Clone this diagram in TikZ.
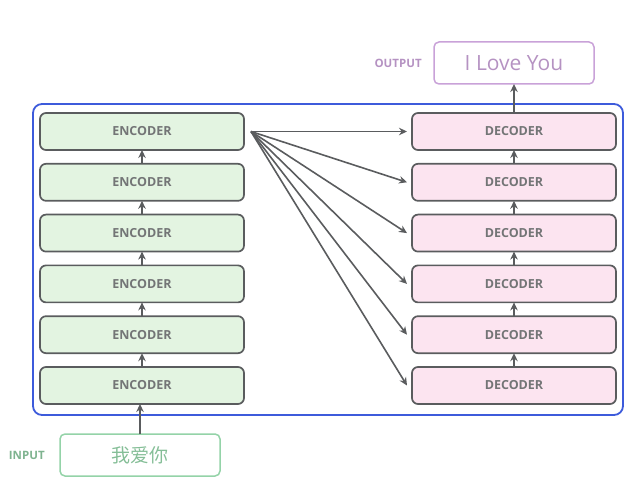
\documentclass[tikz,border=0pt]{standalone}
\usepackage{fontspec}
\setmainfont{Open Sans}
\newfontfamily\cjk{Noto Sans CJK SC}
\usepackage{tikz}
\usetikzlibrary{arrows.meta}
\usetikzlibrary{positioning}
\definecolor{encfill}{HTML}{E3F4E1}
\definecolor{decfill}{HTML}{FCE4F0}
\definecolor{boxline}{HTML}{5A5C5E}
\definecolor{outblue}{HTML}{3D5BDB}
\definecolor{outpurple}{HTML}{C9A2D8}
\definecolor{inpgreen}{HTML}{94D3A8}
\tikzstyle{layer} = [draw=boxline,rectangle,rounded corners=6pt,line width=1.7pt,minimum width=204pt,minimum height=37pt,font=\bfseries\fontsize{12.5}{14}\selectfont,text=boxline!85]
\tikzstyle{enc}   = [layer,fill=encfill]
\tikzstyle{dec}   = [layer,fill=decfill]
\tikzstyle{word}  = [draw,rectangle,rounded corners=5pt,line width=1.5pt,minimum width=160pt,minimum height=42pt]
\tikzstyle{tag}   = [font=\bfseries\fontsize{11.5}{13}\selectfont]

\begin{document}
\begin{tikzpicture}[x=1pt,y=1pt,->,>={Stealth[length=8pt,width=7.5pt]},line width=1.6pt,draw=boxline,node distance=13.8pt,every node/.style={outer sep=0pt}]
\useasboundingbox (0,0) rectangle (635,-481);

\node[enc] (E6) at (142,-131.5) {ENCODER};
\node[enc] (E5) [below=of E6] {ENCODER};
\node[enc] (E4) [below=of E5] {ENCODER};
\node[enc] (E3) [below=of E4] {ENCODER};
\node[enc] (E2) [below=of E3] {ENCODER};
\node[enc] (E1) [below=of E2] {ENCODER};

\node[dec] (D6) [right=168pt of E6] {DECODER};
\node[dec] (D5) [right=168pt of E5] {DECODER};
\node[dec] (D4) [right=168pt of E4] {DECODER};
\node[dec] (D3) [right=168pt of E3] {DECODER};
\node[dec] (D2) [right=168pt of E2] {DECODER};
\node[dec] (D1) [right=168pt of E1] {DECODER};

\node[word, draw=outpurple, text=outpurple!90!black, font=\fontsize{21}{24}\selectfont] (out) [above=29pt of D6] {I Love You};
\node[tag, text=outpurple!90!black] (outlab) [left=9pt of out] {OUTPUT};
\node[word, draw=inpgreen, text=inpgreen!90!black, font=\cjk\fontsize{19}{22}\selectfont] (in) [below=30pt of E1, xshift=-2pt] {我爱你};
\node[tag, text=inpgreen!85!black] (inlab) [left=12pt of in] {INPUT};

% outer frame
\draw[-, outblue, line width=1.8pt, rounded corners=9pt]
	([xshift=-7pt,yshift=9pt]E6.north west) rectangle ([xshift=7pt,yshift=-11pt]D1.south east);

\coordinate (fan) at ([xshift=7pt]E6.east);
\foreach \i in {1,...,6}
	\draw[boxline] (fan) -- ([xshift=-5pt]D\i.west);

\foreach \i/\j in {1/2,2/3,3/4,4/5,5/6} {
	\draw[boxline] (E\i.north) -- (E\j.south);
	\draw[boxline] (D\i.north) -- (D\j.south);
}

\draw[boxline] (in.north) -- (in.north |- E1.south);
\draw[boxline] (D6.north) -- (D6.north |- out.south);

\end{tikzpicture}
\end{document}
